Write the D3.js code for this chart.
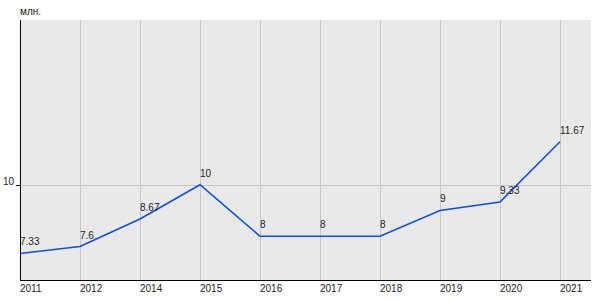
<!DOCTYPE html>
<html>
<head>
<meta charset="utf-8">
<script src="https://cdn.jsdelivr.net/npm/d3@7"></script>
<style>
  body { margin: 0; background: #fff; }
  text { font-family: "Liberation Sans", Arial, sans-serif; fill: #222; }
</style>
</head>
<body>
<svg id="chart" width="600" height="300"></svg>
<script>
const years = ['2011', '2012', '2014', '2015', '2016', '2017', '2018', '2019', '2020', '2021']
const values = [7.33, 7.6, 8.67, 10, 8, 8, 8, 9, 9.33, 11.67]
const labels = ['7.33', '7.6', '8.67', '10', '8', '8', '8', '9', '9.33', '11.67']
const yTicks = [10]

const margin = { top: 20, right: 9, bottom: 20, left: 20 }
const width = 600 - margin.left - margin.right
const height = 300 - margin.top - margin.bottom

const svg = d3.select('#chart')
const g = svg.append('g').attr('transform', `translate(${margin.left},${margin.top})`)

const x = d3.scalePoint().domain(years).range([0, 540])
const y = d3.scaleLinear().domain([6.3, 16.4]).range([height, 0])

g.append('rect').attr('width', width).attr('height', height).attr('fill', '#e9e9e9')

// grid
g.selectAll('line.vgrid')
  .data(years.slice(1))
  .join('line')
  .attr('class', 'vgrid')
  .attr('x1', (d) => x(d) + 0.5).attr('x2', (d) => x(d) + 0.5)
  .attr('y1', 0).attr('y2', height)
  .attr('stroke', '#c6c6c6')

g.selectAll('line.hgrid')
  .data(yTicks)
  .join('line')
  .attr('class', 'hgrid')
  .attr('x1', 0).attr('x2', width)
  .attr('y1', (d) => Math.round(y(d)) + 0.5).attr('y2', (d) => Math.round(y(d)) + 0.5)
  .attr('stroke', '#c6c6c6')

// axes
g.append('line').attr('x1', 0.5).attr('x2', 0.5).attr('y1', 0).attr('y2', height).attr('stroke', '#000')
g.append('line').attr('x1', 0).attr('x2', width).attr('y1', height + 0.5).attr('y2', height + 0.5).attr('stroke', '#000')

g.selectAll('line.ytick')
  .data(yTicks)
  .join('line')
  .attr('class', 'ytick')
  .attr('x1', -4).attr('x2', 0)
  .attr('y1', (d) => Math.round(y(d)) + 0.5).attr('y2', (d) => Math.round(y(d)) + 0.5)
  .attr('stroke', '#000')

g.selectAll('text.ylab')
  .data(yTicks)
  .join('text')
  .attr('class', 'ylab')
  .attr('x', -6)
  .attr('y', (d) => y(d) + 0.5)
  .attr('text-anchor', 'end')
  .style('font-size', '10px')
  .text((d) => d)

g.selectAll('text.xlab')
  .data(years)
  .join('text')
  .attr('class', 'xlab')
  .attr('x', (d) => x(d))
  .attr('y', height + 12)
  .style('font-size', '10px')
  .text((d) => d)

svg.append('text')
  .attr('x', 20).attr('y', 15)
  .style('font-size', '10px')
  .text('млн.')

// line
const line = d3.line()
  .x((d, i) => x(years[i]))
  .y((d) => y(d))

g.append('path')
  .datum(values)
  .attr('d', line)
  .attr('fill', 'none')
  .attr('stroke', '#0a4fe0')
  .attr('stroke-width', 1.6)

g.selectAll('text.val')
  .data(values)
  .join('text')
  .attr('class', 'val')
  .attr('x', (d, i) => x(years[i]))
  .attr('y', (d) => y(d) - 8)
  .style('font-size', '10px')
  .text((d, i) => labels[i])
</script>
</body>
</html>
